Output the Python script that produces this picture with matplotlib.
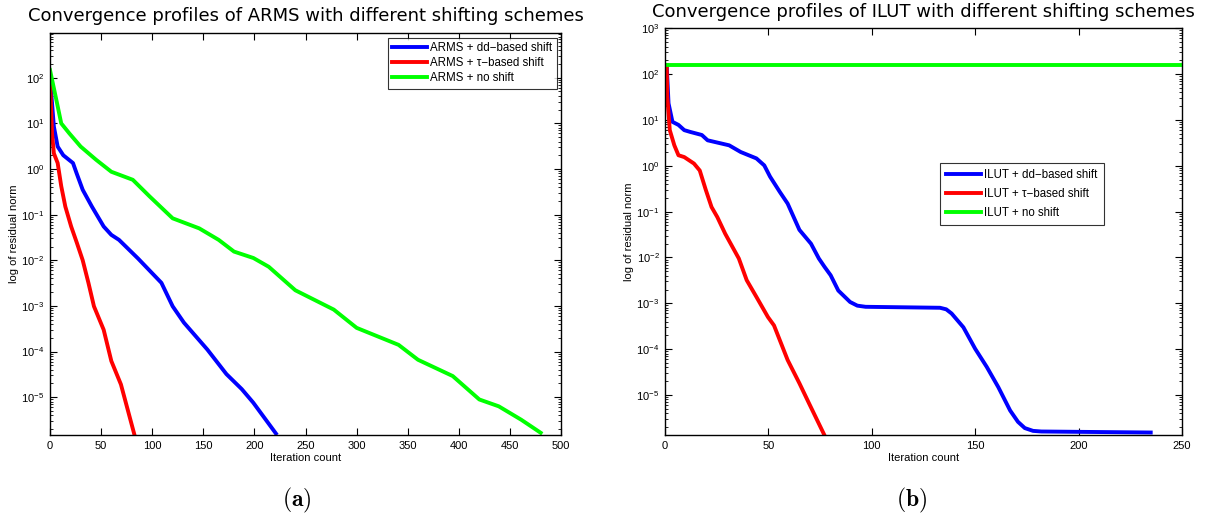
import matplotlib
matplotlib.use("Agg")
import matplotlib.pyplot as plt
from matplotlib.ticker import LogLocator, NullFormatter

plt.rcParams['font.family'] = ['Liberation Sans', 'DejaVu Sans']
plt.rcParams['mathtext.fontset'] = 'cm'

# ARMS residual histories
arms_dd_it = [0, 3.8, 7.5, 13, 22.5, 26, 32, 41, 52.5, 60, 67.5, 86, 109, 120, 131, 154, 172.6, 187.6, 198.8, 221]
arms_dd_res = [100, 8.5, 3.1, 2.0, 1.35, 0.81, 0.35, 0.15, 0.055, 0.036, 0.028, 0.011, 3.2e-3, 9.8e-4,
               4.3e-4, 1.1e-4, 3.2e-5, 1.5e-5, 7.6e-6, 1.6e-6]
arms_tau_it = [0, 2, 3.8, 7.5, 11, 15, 20.7, 26.3, 32, 37.6, 43, 52.5, 60, 69.4, 82.6]
arms_tau_res = [90, 6.0, 2.2, 1.35, 0.42, 0.15, 0.055, 0.024, 0.010, 3.2e-3, 9.8e-4, 3.0e-4, 6.2e-5, 1.9e-5, 1.5e-6]
arms_no_it = [0, 5.6, 11, 19, 30, 45, 60, 81, 97.5, 120, 146, 165, 180, 199, 214, 240, 277.6, 300, 341,
              360, 394, 420, 439, 461, 480]
arms_no_res = [148, 38, 10, 6.0, 3.1, 1.6, 0.87, 0.58, 0.25, 0.083, 0.05, 0.028, 0.0155, 0.0112, 7.2e-3,
               2.2e-3, 8.3e-4, 3.3e-4, 1.4e-4, 6.6e-5, 2.9e-5, 8.9e-6, 6.3e-6, 3.2e-6, 1.66e-6]

# ILUT residual histories
ilut_dd_it = [0.8, 1.7, 3.6, 6.5, 9.3, 12.1, 17.8, 20.6, 31, 36.6, 44.2, 48, 50.8, 55.5, 59.3, 65, 70.6,
              74.4, 77.2, 80.1, 83.8, 89.5, 93, 97, 133, 136, 138.6, 144.3, 150, 155.6, 161.2, 166.9,
              170.7, 174, 178, 182, 234.9]
ilut_dd_res = [158, 23, 9.1, 7.8, 6.0, 5.5, 4.7, 3.6, 2.8, 2.0, 1.45, 1.02, 0.58, 0.27, 0.15, 0.04, 0.020,
               9.5e-3, 6.2e-3, 4.1e-3, 1.9e-3, 1.07e-3, 8.9e-4, 8.4e-4, 8.0e-4, 7.4e-4, 6.0e-4, 3.0e-4,
               1.02e-4, 4.1e-5, 1.48e-5, 4.6e-6, 2.6e-6, 1.9e-6, 1.65e-6, 1.6e-6, 1.52e-6]
ilut_tau_it = [0.8, 1.1, 2.3, 4.5, 6.5, 9.3, 14, 16.8, 19.7, 22.5, 25.3, 29.1, 35.7, 39.5, 44.2, 49.8,
               52.7, 59.3, 65, 69.7, 77.2]
ilut_tau_res = [158, 32, 6.0, 2.8, 1.7, 1.55, 1.12, 0.79, 0.30, 0.126, 0.076, 0.033, 9.5e-3, 3.2e-3,
                1.38e-3, 5.0e-4, 3.3e-4, 5.8e-5, 1.8e-5, 6.5e-6, 1.3e-6]
ilut_no_it = [0, 249]
ilut_no_res = [162, 162]

BLUE, RED, GREEN = (0, 0, 1), (1, 0, 0), (0, 1, 0)
LW = 2.8

fig = plt.figure(figsize=(12.12, 5.19), dpi=100)
ax1 = fig.add_axes([0.04125, 0.1618, 0.4217, 0.774])
ax2 = fig.add_axes([0.5487, 0.1618, 0.4265, 0.7837])


def style(ax, xmax, ymin, ymax):
    ax.set_yscale('log')
    ax.set_xlim(0, xmax)
    ax.set_ylim(ymin, ymax)
    ax.yaxis.set_major_locator(LogLocator(base=10, numticks=20))
    ax.yaxis.set_minor_locator(LogLocator(base=10, subs=range(2, 10), numticks=20))
    ax.yaxis.set_minor_formatter(NullFormatter())
    ax.tick_params(which='both', direction='in', top=True, right=True, labelsize=8, pad=4)
    ax.tick_params(which='major', length=5, width=0.8)
    ax.tick_params(which='minor', length=2.5, width=0.6)
    for s in ax.spines.values():
        s.set_linewidth(1.0)
    ax.set_xlabel('Iteration count', fontsize=8, labelpad=2)
    ax.set_ylabel('log of residual norm', fontsize=8, labelpad=2)


def legend(ax, loc, anchor, spacing, bpad):
    leg = ax.legend(loc=loc, bbox_to_anchor=anchor, fontsize=8.3, frameon=True, fancybox=False,
                    edgecolor='black', handlelength=3.0, handletextpad=0.3, labelspacing=spacing,
                    borderpad=bpad, borderaxespad=0)
    leg.get_frame().set_linewidth(0.8)


ax1.plot(arms_dd_it, arms_dd_res, color=BLUE, lw=LW, label='ARMS + dd\u2212based shift')
ax1.plot(arms_tau_it, arms_tau_res, color=RED, lw=LW, label='ARMS + \u03c4\u2212based shift')
ax1.plot(arms_no_it, arms_no_res, color=GREEN, lw=LW, label='ARMS + no shift')
style(ax1, 500, 1.48e-6, 940)
ax1.set_xticks(range(0, 501, 50))
ax1.set_title('Convergence profiles of ARMS with different shifting schemes', fontsize=13, pad=9,
              family='DejaVu Sans')
legend(ax1, 'upper right', (0.992, 0.989), 0.25, 0.4)

ax2.plot(ilut_dd_it, ilut_dd_res, color=BLUE, lw=LW, label='ILUT + dd\u2212based shift')
ax2.plot(ilut_tau_it, ilut_tau_res, color=RED, lw=LW, label='ILUT + \u03c4\u2212based shift')
ax2.plot(ilut_no_it, ilut_no_res, color=GREEN, lw=LW, label='ILUT + no shift')
style(ax2, 250, 1.34e-6, 1000)
ax2.set_xticks(range(0, 251, 50))
ax2.set_title('Convergence profiles of ILUT with different shifting schemes', fontsize=13, pad=8,
              family='DejaVu Sans')
legend(ax2, 'upper left', (0.532, 0.6695), 0.6, 0.55)

fig.text(297 / 1212, 1 - 500 / 519, r'$\mathbf{(a)}$', ha='center', va='center', fontsize=17)
fig.text(912 / 1212, 1 - 500 / 519, r'$\mathbf{(b)}$', ha='center', va='center', fontsize=17)

fig.savefig('out.png', dpi=100)
